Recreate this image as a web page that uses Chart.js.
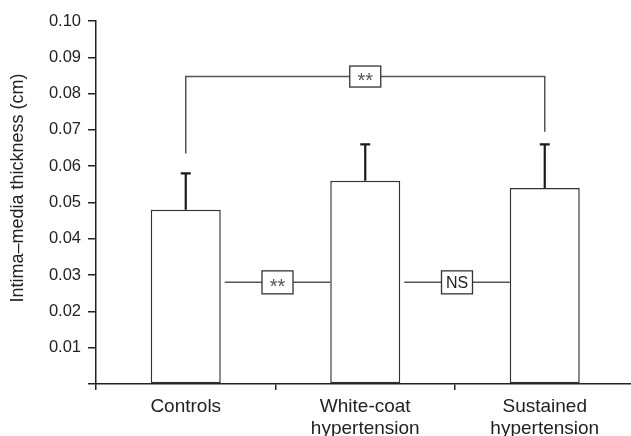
<!DOCTYPE html>
<html lang="en">
<head>
<meta charset="UTF-8" />
<title>Intima-media thickness</title>
<script src="https://cdn.jsdelivr.net/npm/chart.js"></script>
<style>
  html, body { margin: 0; padding: 0; background: #fff; overflow: hidden; }
  .wrap { width: 640px; height: 436px; }
</style>
</head>
<body>
<div class="wrap"><canvas id="imtChart"></canvas></div>
<script>
const groups = ['Controls', ['White-coat', 'hypertension'], ['Sustained', 'hypertension']];
const meanImt = [0.048, 0.056, 0.054];
const sdImt = [0.010, 0.010, 0.012];
const yTickLabels = ['', '0.01', '0.02', '0.03', '0.04', '0.05', '0.06', '0.07', '0.08', '0.09', '0.10'];
const yTitle = 'Intima\u2013media thickness (cm)';

// significance comparisons (bar index pairs), line level and label
const pairs = [[0, 2], [0, 1], [1, 2]];
const pairLevels = [0.0847, 0.028, 0.028];
const pairLabels = ['**', '**', 'NS'];
const spanLegEnds = [0.0635, 0.0695];

const FONT = '"Liberation Sans", Arial, sans-serif';
const INK = '#222';
Chart.defaults.font.family = FONT;
Chart.defaults.color = INK;

const annotations = {
  id: 'annotations',
  afterDatasetsDraw(chart) {
    const ctx = chart.ctx;
    const y = chart.scales.y;
    const bars = chart.getDatasetMeta(0).data;

    // error bars (upper SD only)
    ctx.save();
    ctx.strokeStyle = '#1a1a1a';
    ctx.lineWidth = 2.2;
    bars.forEach((bar, i) => {
      const top = y.getPixelForValue(meanImt[i] + sdImt[i]);
      ctx.beginPath();
      ctx.moveTo(bar.x, bar.y);
      ctx.lineTo(bar.x, top);
      ctx.moveTo(bar.x - 5, top);
      ctx.lineTo(bar.x + 5, top);
      ctx.stroke();
    });
    ctx.restore();

    // comparison lines + boxed labels
    pairs.forEach((p, k) => {
      const a = bars[p[0]], b = bars[p[1]];
      const ly = y.getPixelForValue(pairLevels[k]);
      let x1, x2;
      ctx.save();
      ctx.strokeStyle = '#555';
      ctx.lineWidth = 1.5;
      ctx.beginPath();
      if (p[1] - p[0] > 1) {
        x1 = a.x; x2 = b.x;
        ctx.moveTo(x1, y.getPixelForValue(spanLegEnds[0]));
        ctx.lineTo(x1, ly);
        ctx.lineTo(x2, ly);
        ctx.lineTo(x2, y.getPixelForValue(spanLegEnds[1]));
      } else {
        x1 = a.x + a.width / 2 + 4;
        x2 = b.x - b.width / 2;
        ctx.moveTo(x1, ly);
        ctx.lineTo(x2, ly);
      }
      ctx.stroke();

      const cx = (x1 + x2) / 2;
      const bw = 31, bh = p[1] - p[0] > 1 ? 21 : 23;
      ctx.fillStyle = '#fff';
      ctx.fillRect(cx - bw / 2, ly - bh / 2, bw, bh);
      ctx.strokeStyle = '#333';
      ctx.lineWidth = 1.3;
      ctx.strokeRect(cx - bw / 2, ly - bh / 2, bw, bh);

      const lbl = pairLabels[k];
      const star = lbl.indexOf('*') >= 0;
      ctx.fillStyle = star ? '#555' : INK;
      ctx.font = (star ? 20 : 16) + 'px ' + FONT;
      ctx.textAlign = 'center';
      ctx.textBaseline = 'middle';
      ctx.fillText(lbl, cx, ly + (star ? 5 : 1));
      ctx.restore();
    });
  },
  afterDraw(chart) {
    const ctx = chart.ctx;
    const area = chart.chartArea;
    ctx.save();
    ctx.translate(18, area.top + (area.bottom - area.top) * 0.46);
    ctx.rotate(-Math.PI / 2);
    ctx.fillStyle = INK;
    ctx.font = '18px ' + FONT;
    ctx.textAlign = 'center';
    ctx.textBaseline = 'middle';
    ctx.fillText(yTitle, 0, 0);
    ctx.restore();
  }
};

new Chart(document.getElementById('imtChart'), {
  type: 'bar',
  data: {
    labels: groups,
    datasets: [{
      data: meanImt,
      backgroundColor: '#fff',
      borderColor: '#333',
      borderWidth: 1.5,
      borderSkipped: false,
      barPercentage: 0.39,
      categoryPercentage: 1
    }]
  },
  options: {
    responsive: true,
    maintainAspectRatio: false,
    animation: false,
    layout: { padding: { top: 21, right: 5.5, bottom: 0, left: 0 } },
    plugins: { legend: { display: false }, tooltip: { enabled: false } },
    scales: {
      x: {
        grid: { drawOnChartArea: false, drawTicks: true, tickLength: 6, offset: true, color: INK, lineWidth: 1.5 },
        border: { display: true, color: INK, width: 1.5 },
        ticks: { color: INK, font: { size: 19, lineHeight: 1.15 }, padding: 6, maxRotation: 0, autoSkip: false },
        afterFit: s => { s.height = 52; }
      },
      y: {
        min: 0,
        max: 0.1,
        grid: { drawOnChartArea: false, drawTicks: true, tickLength: 8, color: INK, lineWidth: 1.5 },
        border: { display: true, color: INK, width: 1.5 },
        ticks: {
          stepSize: 0.01,
          color: INK,
          font: { size: 16.5 },
          padding: 7,
          callback: (v, i) => yTickLabels[i]
        },
        afterFit: s => { s.width = 96; }
      }
    }
  },
  plugins: [annotations]
});
</script>
</body>
</html>
